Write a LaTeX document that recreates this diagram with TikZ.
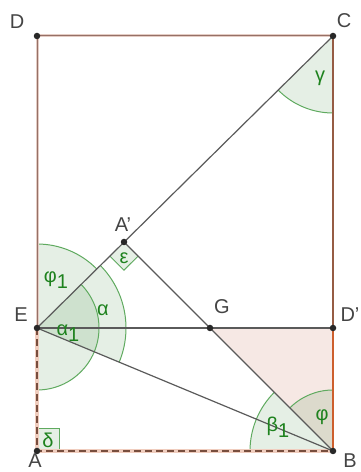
\documentclass[tikz,border=0pt]{standalone}
\usepackage{fontspec}
\setmainfont{Liberation Sans}
\usetikzlibrary{calc}
\definecolor{lblgray}{RGB}{68,68,68}
\definecolor{grtext}{RGB}{30,130,30}
\definecolor{grline}{RGB}{95,170,95}
\definecolor{grfill}{RGB}{0,100,0}
\definecolor{pinkfill}{RGB}{246,232,228}
\definecolor{rimpale}{RGB}{228,204,196}
\definecolor{rimdark}{RGB}{150,112,102}
\definecolor{brownside}{RGB}{150,92,68}
\definecolor{orangeside}{RGB}{205,95,45}
\definecolor{dashpale}{RGB}{240,205,190}
\definecolor{dashdark}{RGB}{120,78,62}
\definecolor{segray}{RGB}{90,90,90}
\definecolor{dotcol}{RGB}{40,40,40}
\begin{document}
\begin{tikzpicture}[x=1pt,y=1pt,
  ptlabel/.style={text=lblgray,font=\fontsize{20}{24}\selectfont,inner sep=0pt},
  anglabel/.style={text=grtext,font=\fontsize{20}{24}\selectfont,inner sep=0pt},
  sector/.style={fill=grfill,fill opacity=0.1},
  arcline/.style={draw=grline,line width=1pt},
  seg/.style={draw=segray,line width=1.2pt},
  dot/.style={circle,fill=dotcol,inner sep=0pt,minimum size=6.5pt}]
\useasboundingbox (0,0) rectangle (360,472);
% points
\coordinate (D) at (37,436);
\coordinate (C) at (333,436);
\coordinate (E) at (37,144);
\coordinate (Dp) at (333,144);
\coordinate (A) at (37,21);
\coordinate (B) at (333,21);
\coordinate (Ap) at (124,230);
\coordinate (G) at (210,144);
% pink triangle
\fill[pinkfill] (G) -- (Dp) -- (B) -- cycle;
% sectors
\fill[sector] (E) -- ++(44.7:84) arc[start angle=44.7,end angle=90,radius=84] -- cycle;
\fill[sector] (E) -- ++(-22.6:89) arc[start angle=-22.6,end angle=44.7,radius=89] -- cycle;
\fill[sector] (E) -- ++(-90:62) arc[start angle=-90,end angle=44.7,radius=62] -- cycle;
\fill[sector] (B) -- ++(135:83) arc[start angle=135,end angle=180,radius=83] -- cycle;
\fill[sector] (B) -- ++(90:61) arc[start angle=90,end angle=135,radius=61] -- cycle;
\fill[sector] (C) -- ++(224.6:77) arc[start angle=224.6,end angle=270,radius=77] -- cycle;
% right-angle squares
\coordinate (Q1) at ($(Ap)!20pt!(E)$);
\coordinate (Q3) at ($(Ap)!20pt!(B)$);
\coordinate (Q2) at ($(Q1)+(Q3)-(Ap)$);
\fill[sector] (Ap) -- (Q1) -- (Q2) -- (Q3) -- cycle;
\draw[arcline] (Q1) -- (Q2) -- (Q3);
\fill[sector] (A) rectangle ++(22,22);
\draw[arcline] (A) ++(0,22) -- ++(22,0) -- ++(0,-22);
% arcs
\draw[arcline] (E) ++(44.7:84) arc[start angle=44.7,end angle=90,radius=84];
\draw[arcline] (E) ++(-22.6:89) arc[start angle=-22.6,end angle=44.7,radius=89];
\draw[arcline] (E) ++(-90:62) arc[start angle=-90,end angle=44.7,radius=62];
\draw[arcline] (B) ++(135:83) arc[start angle=135,end angle=180,radius=83];
\draw[arcline] (B) ++(90:61) arc[start angle=90,end angle=135,radius=61];
\draw[arcline] (C) ++(224.6:77) arc[start angle=224.6,end angle=270,radius=77];
% rectangle sides
\draw[rimpale,line width=3pt] (E) -- (D) -- (C);
\draw[rimdark,line width=1pt] (E) -- (D) -- (C);
\draw[brownside,line width=2pt] (C) -- (Dp);
\draw[orangeside,line width=2.5pt] (Dp) -- (B);
\draw[dashpale,line width=4pt] (E) -- (A) -- (B);
\draw[dashdark,line width=1.8pt,dash pattern=on 7pt off 4pt] (E) -- (A) -- (B);
% gray segments
\draw[seg] (E) -- (C);
\draw[seg] (Ap) -- (B);
\draw[seg] (E) -- (B);
\draw[seg] (E) -- (Dp);
% dots
\foreach \p in {D,C,E,Dp,A,B,Ap,G} \node[dot] (dot\p) at (\p) {};
% point labels
\node[ptlabel] (lD) at (17,450) {D};
\node[ptlabel] (lC) at (344,451) {C};
\node[ptlabel] (lAp) at (123,247) {A\symbol{39}};
\node[ptlabel] (lE) at (21,157) {E};
\node[ptlabel] (lG) at (222,165) {G};
\node[ptlabel] (lDp) at (350,157) {D\symbol{39}};
\node[ptlabel] (lA) at (35,11) {A};
\node[ptlabel] (lB) at (350,11) {B};
% angle labels
\node[anglabel] (lphi1) at (56,192) {φ\raisebox{-0.3em}{1}};
\node[anglabel] (lalpha) at (103,162) {α};
\node[anglabel] (lalpha1) at (68,139) {α\raisebox{-0.3em}{1}};
\node[anglabel] (leps) at (124,214) {ε};
\node[anglabel] (ldelta) at (48,32) {δ};
\node[anglabel] (lgamma) at (320,394) {γ};
\node[anglabel] (lbeta1) at (278,45) {β\raisebox{-0.3em}{1}};
\node[anglabel] (lphi) at (322,55) {φ};
\end{tikzpicture}
\end{document}
